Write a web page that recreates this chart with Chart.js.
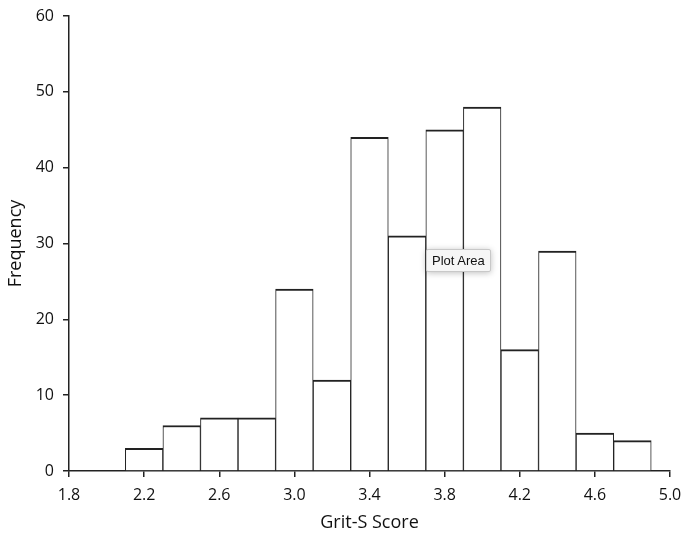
<!DOCTYPE html>
<html>
<head>
<meta charset="utf-8">
<script src="https://cdn.jsdelivr.net/npm/chart.js@4"></script>
<style>
    body { margin: 0; background: #fff; }
    #wrap { position: relative; width: 681px; height: 539px; }
    #tip {
        position: absolute; left: 426px; top: 249px;
        padding: 3px 5px; font: 13px "Liberation Sans", Arial, sans-serif; color: #111;
        background: #f6f6f6; border: 1px solid #c8c8c8; border-radius: 2px;
        box-shadow: 0 1px 6px rgba(0, 0, 0, 0.25);
    }
</style>
</head>
<body>
<div id="wrap">
    <canvas id="chart" width="681" height="539"></canvas>
    <div id="tip">Plot Area</div>
</div>
<script>
// bin centres (bin width 0.2) and counts
const binCentres = [2.2, 2.4, 2.6, 2.8, 3.0, 3.2, 3.4, 3.6, 3.8, 4.0, 4.2, 4.4, 4.6, 4.8];
const counts = [3, 6, 7, 7, 24, 12, 44, 31, 45, 48, 16, 29, 5, 4];
const xTicks = [1.8, 2.2, 2.6, 3.0, 3.4, 3.8, 4.2, 4.6, 5.0];
const yTicks = [0, 10, 20, 30, 40, 50, 60];

const font = "'Open Sans', sans-serif";
const ink = "#111";
const line = "#222";

new Chart(document.getElementById("chart"), {
    type: "bar",
    data: {
        datasets: [{
            data: binCentres.map((x, i) => ({ x: x, y: counts[i] })),
            backgroundColor: "#fff",
            borderColor: line,
            borderWidth: { top: 2, left: 1, right: 1, bottom: 0 },
            borderSkipped: false,
            barPercentage: 1,
            categoryPercentage: 1
        }]
    },
    options: {
        responsive: false,
        animation: false,
        layout: { padding: { left: 0, right: 0, top: 16, bottom: 0 } },
        plugins: { legend: { display: false }, tooltip: { enabled: false } },
        scales: {
            x: {
                type: "linear",
                offset: false,
                min: 1.8, max: 5.0,
                afterBuildTicks: s => { s.ticks = xTicks.map(v => ({ value: v })); },
                afterFit: s => { s.height = 68; s.paddingLeft = 0; s.paddingRight = 11; },
                grid: { offset: false, drawOnChartArea: false, drawTicks: true, tickLength: 6, color: line, lineWidth: 1.5 },
                border: { color: line, width: 1.5 },
                ticks: { color: ink, font: { family: font, size: 16 }, padding: 9, maxRotation: 0,
                    callback: v => v.toFixed(1) },
                title: { display: true, text: "Grit-S Score", color: ink,
                    font: { family: font, size: 18 }, padding: { top: 0, bottom: 5 } }
            },
            y: {
                min: 0, max: 60,
                afterBuildTicks: s => { s.ticks = yTicks.map(v => ({ value: v })); },
                afterFit: s => { s.width = 69; s.paddingTop = 0; s.paddingBottom = 0; },
                grid: { drawOnChartArea: false, drawTicks: true, tickLength: 6, color: line, lineWidth: 1.5 },
                border: { color: line, width: 1.5 },
                ticks: { color: ink, font: { family: font, size: 16 }, padding: 9 },
                title: { display: true, text: "Frequency", color: ink,
                    font: { family: font, size: 18 }, padding: { top: 5, bottom: 0 } }
            }
        }
    }
});
</script>
</body>
</html>
